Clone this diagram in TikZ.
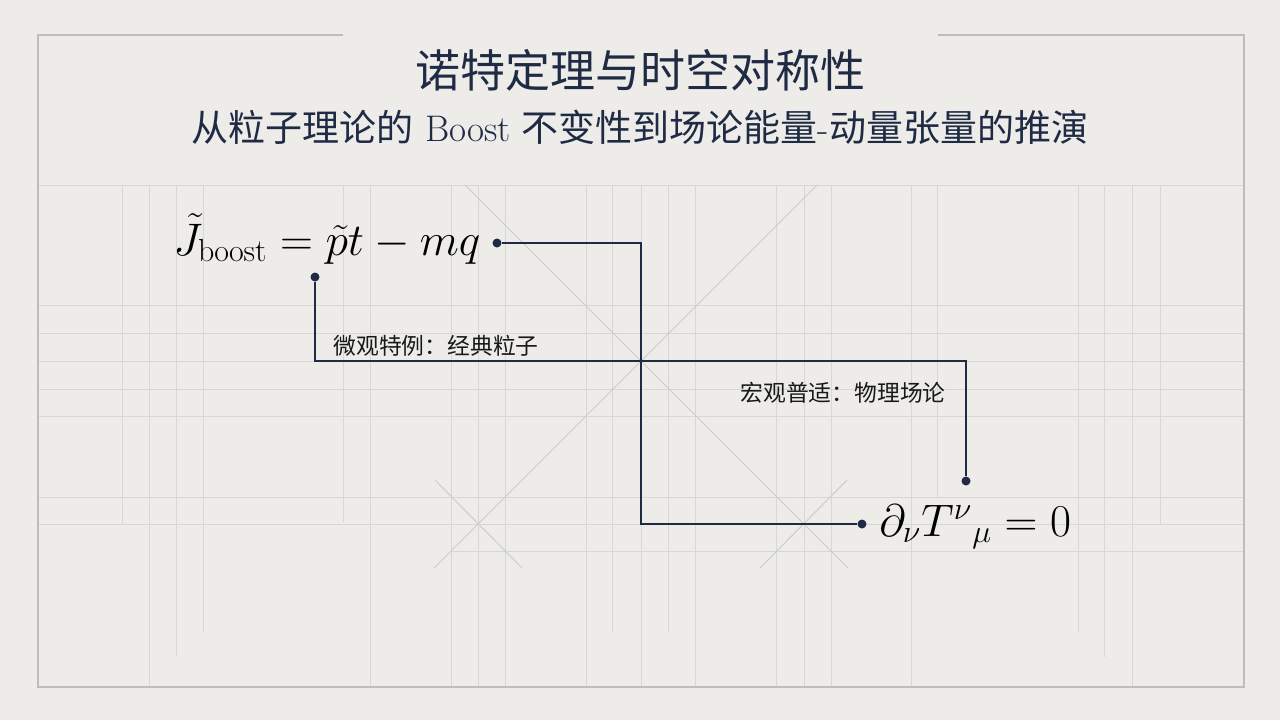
\RequirePackage{fix-cm}
\documentclass[tikz,border=0pt]{standalone}
\usepackage{fontspec}
\newfontfamily\cjk{Noto Sans CJK SC}
\usetikzlibrary{positioning}
\definecolor{paper}{HTML}{EDECE8}
\definecolor{ink}{HTML}{1F2A44}
\definecolor{rule}{HTML}{D7D7D4}
\definecolor{frame}{HTML}{BDBDBB}

\begin{document}
\begin{tikzpicture}[x=0.5pt,y=-0.5pt,
    grid line/.style={draw=rule,line width=0.5pt},
    frame line/.style={draw=frame,line width=0.9pt},
    diag line/.style={draw=black!20,line width=0.5pt},
    link/.style={draw=ink,line width=1pt},
    dot/.style={circle,fill=ink,inner sep=0pt,minimum size=4.5pt},
    formula/.style={inner sep=0pt,font=\fontsize{22.8}{27}\selectfont},
    note/.style={inner sep=0pt,text=black!90,font=\cjk\fontsize{11.4}{14}\selectfont}]
    \fill[paper] (0,0) rectangle (1280,720);
    \useasboundingbox (0,0) rectangle (1280,720);
    % background grid
    \foreach \gy in {185,305,333,361,389,416,497,524}
        \draw[grid line] (38,\gy) -- (1244,\gy);
    \draw[grid line] (451,551) -- (1244,551);
    \foreach \gx/\gend in {122/525,149/687,176/656,203/632,343/522,370/687,
        451/687,478/687,505/687,586/687,612/632,641/687,668/632,695/687,
        776/687,804/687,831/687,911/687,937/497,1078/632,1104/657,1132/687,1160/524}
        \draw[grid line] (\gx,185) -- (\gx,\gend);
    \draw[diag line] (465,185) -- (848,568);
    \draw[diag line] (817,185) -- (434,568);
    \draw[diag line] (435,480) -- (522,568);
    \draw[diag line] (760,568) -- (847,480);
    % frame
    \draw[frame line] (343,35) -- (38,35) -- (38,687) -- (1244,687) -- (1244,35) -- (938,35);
    % titles
    \node[text=ink,font=\cjk\fontsize{22.5}{27}\selectfont] (title) at (640,70) {诺特定理与时空对称性};
    \node[text=ink,font=\fontsize{18.5}{22}\selectfont] (subtitle) at (640,127)
        {{\cjk 从粒子理论的}\ Boost\ {\cjk 不变性到场论能量}-{\cjk 动量张量的推演}};
    % formulas
    \node[formula,anchor=base west] (f1) at (173,255) {$\tilde{J}_{\mathrm{boost}} = \tilde{p}t - mq$};
    \node[formula,anchor=base west] (f2) at (879,536) {$\partial_{\nu} T^{\nu}{}_{\mu} = 0$};
    \node[dot] (d1) at (497,243) {};
    \node[dot] (d2) at (862,524) {};
    \node[dot] (d3) at (315,277) {};
    \node[dot] (d4) at (966,481) {};
    \coordinate (mid) at (641,361);
    \draw[link] (d1) -| (mid) |- (d2);
    \draw[link] (d3) |- (mid) -| (d4);
    \node[note,anchor=west] (n1) at (333,346) {微观特例：经典粒子};
    \node[note,anchor=west] (n2) at (740,393) {宏观普适：物理场论};
\end{tikzpicture}
\end{document}
